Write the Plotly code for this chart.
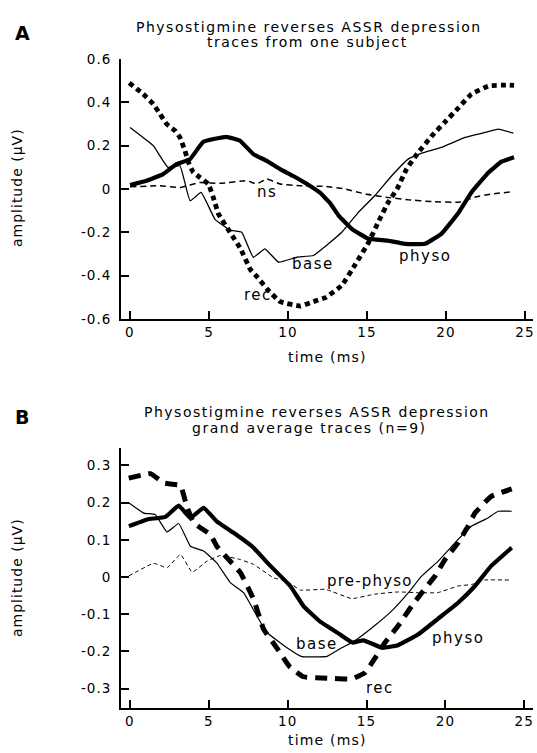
import plotly.graph_objects as go

# ---------------- Panel A: traces from one subject ----------------
rec_a_t = [-0.05, 0.84, 1.47, 1.9, 2.32, 2.85, 3.16, 3.48, 3.7, 4.0, 4.43, 4.96, 5.27, 5.6, 6.33, 7.0,
           7.6, 8.1, 8.65, 9.5, 10.76, 11.6, 12.4, 13.4, 14.24, 15.1, 15.7, 16.35, 16.9, 17.5, 18.25,
           19.1, 19.9, 20.8, 21.6, 22.7, 23.9, 24.3]
rec_a_v = [0.49, 0.438, 0.392, 0.346, 0.3, 0.269, 0.238, 0.176, 0.123, 0.077, 0.053, 0.023, -0.039,
           -0.115, -0.2, -0.276, -0.37, -0.41, -0.46, -0.52, -0.54, -0.52, -0.5, -0.445, -0.35, -0.246,
           -0.154, -0.06, 0.0, 0.092, 0.17, 0.245, 0.307, 0.376, 0.438, 0.476, 0.48, 0.478]

base_a_t = [0, 1.47, 2.4, 3.16, 3.8, 4.5, 5.38, 6.33, 7.07, 7.8, 8.54, 9.4, 10.55, 11.6, 12.5, 13.4,
            14.45, 15.5, 16.56, 17.6, 18.46, 19.7, 21.2, 22.47, 23.3, 24.26]
base_a_v = [0.284, 0.2, 0.1, 0.107, -0.054, -0.016, -0.14, -0.19, -0.2, -0.315, -0.276, -0.338, -0.315,
            -0.307, -0.256, -0.2, -0.108, -0.03, 0.061, 0.138, 0.166, 0.192, 0.238, 0.261, 0.276, 0.258]

physo_a_t = [0, 1.05, 2.1, 2.95, 3.8, 4.64, 6.1, 6.96, 7.8, 8.65, 9.5, 10.3, 11.2, 12.0, 12.66, 13.2,
             14.03, 15.1, 16.3, 17.4, 18.67, 19.7, 20.8, 21.6, 22.7, 23.5, 24.3]
physo_a_v = [0.018, 0.038, 0.069, 0.115, 0.138, 0.218, 0.241, 0.223, 0.161, 0.13, 0.092, 0.061, 0.023,
             -0.016, -0.065, -0.123, -0.184, -0.23, -0.238, -0.253, -0.253, -0.207, -0.108, -0.016,
             0.077, 0.126, 0.146]

ns_a_t = [0, 1.9, 3.16, 4.43, 5.7, 7.4, 8.0, 8.65, 9.5, 10.76, 12.34, 13.6, 14.9, 16.2, 17.6, 19.1,
          20.8, 21.8, 22.9, 24.3]
ns_a_v = [0.01, 0.015, 0.007, 0.03, 0.026, 0.038, 0.023, 0.046, 0.023, 0.015, 0.012, 0.0, -0.023,
          -0.038, -0.05, -0.058, -0.061, -0.038, -0.023, -0.012]

# ---------------- Panel B: grand average traces (n=9) ----------------
rec_b_t = [-0.08, 1.3, 2.14, 3.2, 3.6, 4.04, 5.1, 5.5, 6.15, 7.0, 7.84, 8.47, 9.3, 10.1, 11.0, 12.5,
           14.06, 14.9, 15.5, 16.17, 17.0, 17.86, 18.5, 19.34, 19.97, 20.8, 21.44, 21.87, 22.9, 24.2]
rec_b_v = [0.266, 0.278, 0.253, 0.246, 0.19, 0.146, 0.114, 0.083, 0.052, 0.012, -0.06, -0.14, -0.19,
           -0.24, -0.268, -0.272, -0.274, -0.257, -0.22, -0.176, -0.131, -0.078, -0.042, 0.003, 0.047,
           0.092, 0.137, 0.172, 0.217, 0.237]

base_b_t = [-0.08, 0.87, 1.6, 2.35, 3.09, 3.83, 4.67, 5.5, 6.36, 7.2, 8.05, 8.68, 9.95, 10.9, 12.5,
            13.43, 14.2, 15.5, 16.6, 17.65, 18.5, 19.54, 20.6, 21.66, 22.7, 23.34, 24.2]
base_b_v = [0.2, 0.172, 0.168, 0.121, 0.144, 0.083, 0.07, 0.038, -0.015, -0.042, -0.105, -0.149, -0.19,
            -0.214, -0.213, -0.19, -0.173, -0.131, -0.091, -0.042, 0.003, 0.043, 0.092, 0.137, 0.159,
            0.177, 0.177]

physo_b_t = [-0.07, 1.09, 2.25, 3.09, 3.83, 4.67, 5.5, 6.57, 7.73, 8.9, 10.16, 11.0, 12.06, 13.3, 14.1,
             14.8, 16.0, 17.0, 18.28, 19.5, 20.8, 21.87, 22.9, 24.2]
physo_b_v = [0.137, 0.155, 0.162, 0.192, 0.159, 0.186, 0.15, 0.119, 0.083, 0.03, -0.024, -0.078, -0.12,
             -0.154, -0.176, -0.17, -0.19, -0.183, -0.154, -0.113, -0.069, -0.024, 0.03, 0.079]

pre_b_t = [-0.08, 1.5, 2.35, 3.2, 3.94, 4.89, 5.73, 7.0, 7.84, 9.1, 9.95, 10.8, 12.4, 14.06, 15.5, 17.0,
           18.28, 19.5, 20.8, 21.66, 22.5, 24.2]
pre_b_v = [0.003, 0.037, 0.025, 0.061, 0.013, 0.043, 0.058, 0.047, 0.034, -0.002, -0.011, -0.035,
           -0.033, -0.058, -0.046, -0.04, -0.042, -0.042, -0.024, -0.02, -0.008, -0.008]

# tick labels
x_ticks = [0, 5, 10, 15, 20, 25]
x_tick_text = ["0", "5", "10", "15", "20", "25"]
ya_ticks = [-0.6, -0.4, -0.2, 0, 0.2, 0.4, 0.6]
ya_tick_text = ["-0.6", "-0.4", "-0.2", "0", "0.2", "0.4", "0.6"]
yb_ticks = [-0.3, -0.2, -0.1, 0, 0.1, 0.2, 0.3]
yb_tick_text = ["-0.3", "-0.2", "-0.1", "0", "0.1", "0.2", "0.3"]

FONT = "DejaVu Sans"
W, H = 537, 753


def sp(text, ls):
    return '<span style="letter-spacing:%.1fpx">%s</span>' % (ls, text)


fig = go.Figure()


def add(t, v, width, dash, xa, ya):
    fig.add_trace(go.Scatter(x=t, y=v, mode="lines", xaxis=xa, yaxis=ya, showlegend=False,
                             hoverinfo="skip",
                             line=dict(color="black", width=width, dash=dash, shape="spline",
                                       smoothing=0.3)))


add(ns_a_t, ns_a_v, 1.5, "6px,4px", "x", "y")
add(base_a_t, base_a_v, 1.3, "solid", "x", "y")
add(physo_a_t, physo_a_v, 4.2, "solid", "x", "y")
add(rec_a_t, rec_a_v, 4.8, "5px,4px", "x", "y")

add(pre_b_t, pre_b_v, 1.0, "4px,3px", "x2", "y2")
add(base_b_t, base_b_v, 1.2, "solid", "x2", "y2")
add(physo_b_t, physo_b_v, 4.2, "solid", "x2", "y2")
add(rec_b_t, rec_b_v, 5.0, "12px,8px", "x2", "y2")

xdom = [121 / W, 533 / W]


def py(p):
    return 1 - p / H


axis_common = dict(showgrid=False, zeroline=False, showline=True, linecolor="black", linewidth=2,
                   ticks="inside", ticklen=8, tickwidth=2, tickcolor="black", automargin=False,
                   tickfont=dict(family=FONT, size=13.5, color="black"))

xt = [sp(s, 1.2) for s in x_tick_text]
yat = [sp(s, 1.0) for s in ya_tick_text]
ybt = [sp(s, 1.0) for s in yb_tick_text]

fig.update_layout(
    template="none",
    width=W, height=H, margin=dict(l=0, r=0, t=0, b=0, pad=0), autosize=False,
    paper_bgcolor="white", plot_bgcolor="white", showlegend=False,
    xaxis=dict(domain=xdom, range=[-0.57, 25.5], anchor="y", tickvals=x_ticks, ticktext=xt,
               ticklabelstandoff=0, **axis_common),
    yaxis=dict(domain=[py(319), py(59)], range=[-0.6, 0.6], anchor="x", tickvals=ya_ticks,
               ticktext=yat, ticklabelstandoff=5, **axis_common),
    xaxis2=dict(domain=xdom, range=[-0.57, 25.55], anchor="y2", tickvals=x_ticks, ticktext=xt,
                ticklabelstandoff=0, **axis_common),
    yaxis2=dict(domain=[py(708), py(448)], range=[-0.352, 0.347], anchor="x2", tickvals=yb_ticks,
                ticktext=ybt, ticklabelstandoff=5, **axis_common),
)


def ann(text, x, y, size=15, bold=False, angle=0, xref="paper", yref="paper", ls=0.0):
    t = ("<b>%s</b>" % text) if bold else text
    if ls:
        t = sp(t, ls)
    fig.add_annotation(text=t, x=x, y=y, xref=xref, yref=yref,
                       showarrow=False, xanchor="center", yanchor="middle", textangle=angle,
                       font=dict(family=FONT, size=size, color="black"))


# panel letters
ann("A", 22 / W, py(33), size=19, bold=True)
ann("B", 22 / W, py(416.7), size=19, bold=True)
# titles
ann("Physostigmine reverses ASSR depression", 308.5 / W, py(26.7), size=14, ls=1.5)
ann("traces from one subject", 307.5 / W, py(41.7), size=14, ls=1.5)
ann("Physostigmine reverses ASSR depression", 317 / W, py(411.7), size=14, ls=1.5)
ann("grand average traces (n=9)", 310 / W, py(428), size=14, ls=1.5)
# axis titles
ann("amplitude (µV)", 17 / W, py(188), size=14, angle=-90, ls=1.0)
ann("amplitude (µV)", 17 / W, py(578), size=14, angle=-90, ls=1.0)
ann("time (ms)", 327 / W, py(357), size=14, ls=1.2)
ann("time (ms)", 327 / W, py(740), size=14, ls=1.2)
# trace labels
ann("ns", 8.65, -0.016, xref="x", yref="y", ls=1.5)
ann("base", 11.6, -0.345, xref="x", yref="y", ls=1.5)
ann("rec", 8.1, -0.49, xref="x", yref="y", ls=1.5)
ann("physo", 18.67, -0.307, xref="x", yref="y", ls=1.5)
ann("pre-physo", 15.2, -0.011, xref="x2", yref="y2", ls=1.2)
ann("base", 11.85, -0.18, xref="x2", yref="y2", ls=1.5)
ann("physo", 20.8, -0.164, xref="x2", yref="y2", ls=1.5)
ann("rec", 15.85, -0.297, xref="x2", yref="y2", ls=1.5)

fig.write_html("out.html", config={"displayModeBar": False},
               post_script="document.body.style.margin='0';")
